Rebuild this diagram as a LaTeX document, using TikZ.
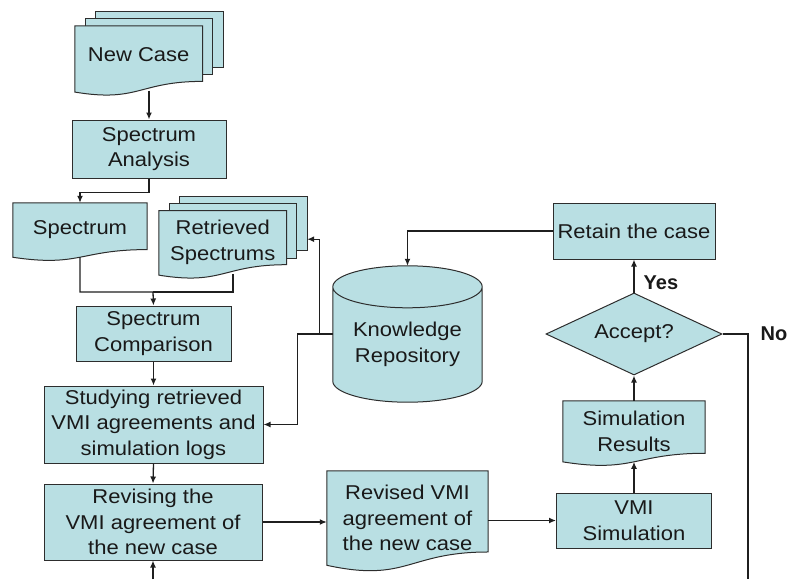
\documentclass[tikz,border=0pt]{standalone}
\usepackage{fontspec}
\setmainfont[FakeStretch=1.1]{Liberation Sans}
\newfontfamily\narrowfont{Liberation Sans}
\usetikzlibrary{arrows.meta,shapes.geometric,calc}
\definecolor{boxfill}{RGB}{185,223,227}
\definecolor{edge}{RGB}{45,45,45}
\pgfdeclarelayer{background}
\pgfsetlayers{background,main}

\tikzset{
  base/.style={font=\fontsize{20}{25.5}\selectfont, align=center, inner sep=0pt, text=black!90},
  sz/.style 2 args={minimum width=#1pt, minimum height=#2pt},
  box/.style={fill=boxfill, draw=edge, line width=1pt},
  process/.style={base, box},
  doc/.style={base},
  store/.style={base},
  decision/.style={base, box, diamond, shape aspect=2.15, minimum width=176pt, minimum height=82pt},
  conn/.style={draw=black!88, line width=1.3pt},
  arr/.style={conn, -{Latex[length=7pt,width=6pt]}},
  answer/.style={font=\narrowfont\bfseries\fontsize{20}{24}\selectfont, inner sep=0pt, text=black!90}
}

% document symbol: flat top, wavy bottom; the node spans top edge to mid-wave
\newcommand\docshape[1]{%
  \path[box] let \p1=(#1.north west), \p2=(#1.south east) in
    (\x1,\y1) -- (\x2,\y1) -- (\x2,{\y1-0.86*(\y1-\y2)})
    .. controls ({0.5*(\x1+\x2)},{\y1-0.86*(\y1-\y2)}) and ({0.5*(\x1+\x2)},{\y1-1.187*(\y1-\y2)})
    .. (\x1,{\y1-1.001*(\y1-\y2)}) -- cycle;}

% stacked documents: two pages behind the front one
\newcommand\multidocshape[1]{%
  \path[box] let \p1=(#1.north west), \p2=(#1.south east) in
    ({\x1+21pt},{\y1+14pt}) rectangle ({\x2+20.6pt},{\y1-0.639*(\y1-\y2)});
  \path[box] let \p1=(#1.north west), \p2=(#1.south east) in
    ({\x1+10.5pt},{\y1+7pt}) rectangle ({\x2+10.3pt},{\y1-0.75*(\y1-\y2)});
  \path[box] let \p1=(#1.north west), \p2=(#1.south east) in
    (\x1,\y1) -- (\x2,\y1) -- (\x2,{\y1-0.856*(\y1-\y2)})
    .. controls ({0.5*(\x1+\x2)},{\y1-0.856*(\y1-\y2)}) and ({0.5*(\x1+\x2)},{\y1-1.186*(\y1-\y2)})
    .. (\x1,{\y1-1.021*(\y1-\y2)}) -- cycle;}

% database cylinder: node spans top-ellipse centre to bottom rim
\newcommand\cylshape[1]{%
  \path[box] let \p1=(#1.north west), \p2=(#1.south east) in
    (\x1,\y1) -- (\x1,{\y2+21pt})
    arc[start angle=180, end angle=360, x radius={0.5*(\x2-\x1)}, y radius=21pt]
    -- (\x2,\y1)
    arc[start angle=0, end angle=180, x radius={0.5*(\x2-\x1)}, y radius=21pt] -- cycle
    (\x1,\y1) arc[start angle=180, end angle=360, x radius={0.5*(\x2-\x1)}, y radius=21pt];}

\begin{document}
\begin{tikzpicture}[x=1pt,y=1pt]
\useasboundingbox (0,0) rectangle (788,-579);

% nodes
\node[doc, sz={127.4}{64.4}] (newcase) at (138.7,-58.3) {New Case\\[-17.5pt]\mbox{}};
\node[process, sz={154}{58}] (sa) at (149,-149) {Spectrum\\Analysis};
\node[doc, sz={134}{54}] (spec) at (80,-230) {Spectrum};
\node[doc, sz={127.4}{62.8}] (retr) at (222.7,-242.2) {Retrieved\\Spectrums};
\node[process, sz={155}{55}] (cmp) at (153.5,-333.5) {Spectrum\\Comparison};
\node[process, sz={219}{77}] (study) at (153.5,-424.5) {Studying retrieved\\VMI agreements and\\simulation logs};
\node[process, sz={218}{76}] (revise) at (153,-522) {Revising the\\VMI agreement of\\the new case};
\node[doc, sz={161}{94}] (revised) at (407.5,-518) {Revised VMI\\agreement of\\the new case};
\node[process, sz={155}{55}] (vmi) at (634,-520.5) {VMI\\Simulation};
\node[doc, sz={142}{60.6}] (simres) at (634,-431.3) {Simulation\\Results};
\node[decision] (accept) at (634,-334) {Accept?};
\node[process, sz={162}{56}] (retain) at (634,-231) {Retain the case};
\node[store, sz={149}{115}] (kr) at (407.5,-344.5) {Knowledge\\Repository};

\begin{pgfonlayer}{background}
  \multidocshape{newcase}
  \multidocshape{retr}
  \docshape{spec}
  \docshape{revised}
  \docshape{simres}
  \cylshape{kr}
\end{pgfonlayer}

% connectors
\coordinate (merge) at (153,-292);
\coordinate (feed) at (153,-579);
\coordinate (noend) at (748,-579);

\draw[arr] (newcase.south -| sa.north) -- (sa.north);
\draw[arr] (sa.south) -- ++(0,-14) -| (spec.north);
\draw[arr] (spec.south) |- (merge) -- (cmp.north);
\draw[conn] ([xshift=10.3pt]retr.south) |- (merge);
\draw[arr] (cmp.south) -- (study.north);
\draw[arr] (study.south) -- (revise.north);
\draw[arr] (feed) -- (revise.south);
\draw[arr] (revise.east) -- (revise.east -| revised.west);
\draw[arr] (revised.east |- vmi.west) -- (vmi.west);
\draw[arr] (vmi.north) -- (simres.south);
\draw[arr] (simres.north) -- (accept.south);
\draw[arr] (accept.north) -- node[answer, pos=0.3, anchor=west, xshift=9pt] {Yes} (retain.south);
\draw[conn] (accept.east) -| node[answer, pos=0.5, anchor=west, xshift=12pt] {No} (noend);
\draw[arr] (retain.west) -| ([yshift=21pt]kr.north);
\draw[arr] ([yshift=10.5pt]kr.west) -- ++(-13,0) |- ([xshift=20.6pt,yshift=3pt]retr.east);
\draw[arr] ([yshift=10.5pt]kr.west) -- ++(-35,0) |- (study.east);
\end{tikzpicture}
\end{document}
